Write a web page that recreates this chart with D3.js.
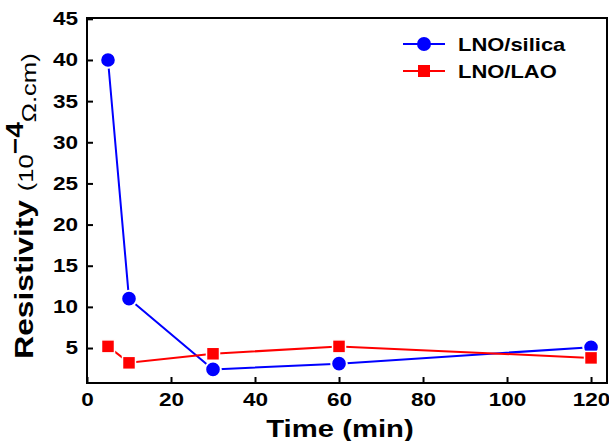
<!DOCTYPE html>
<html>
<head>
<meta charset="utf-8">
<script src="https://cdn.jsdelivr.net/npm/d3@7"></script>
<style>
  body { margin: 0; background: #fff; }
  svg { display: block; font-family: "Liberation Sans", Arial, sans-serif; }
</style>
</head>
<body>
<div id="chart"></div>
<script>
// annealing time (min) and resistivity (10^-4 ohm.cm)
var times = [5, 10, 30, 60, 120];
var silica = [40, 11, 2.4, 3.1, 5.1];
var lao = [5.2, 3.2, 4.3, 5.2, 3.8];
var xTicks = [0, 20, 40, 60, 80, 100, 120];
var yTicks = [5, 10, 15, 20, 25, 30, 35, 40, 45];

var width = 609, height = 441;
var margin = { left: 87, right: 607, top: 18, bottom: 383 };
var stretch = 1.22; // the lettering is drawn a bit wide

var svg = d3.select('#chart').append('svg')
  .attr('width', width)
  .attr('height', height);

var x = d3.scaleLinear().domain([0, 123.8]).range([margin.left, margin.right]);
var y = d3.scaleLinear().domain([0.75, 45.1]).range([margin.bottom, margin.top]);

// axes with ticks pointing into the plot
var xAxis = svg.append('g')
  .attr('transform', `translate(0, ${margin.bottom})`)
  .call(d3.axisBottom(x).tickValues(xTicks).tickSizeInner(-6).tickSizeOuter(0).tickPadding(10));

var yAxis = svg.append('g')
  .attr('transform', `translate(${margin.left}, 0)`)
  .call(d3.axisLeft(y).tickValues(yTicks).tickSizeInner(-6).tickSizeOuter(0).tickPadding(9));

[xAxis, yAxis].forEach(function(ax) {
  ax.select('.domain').remove();
  ax.selectAll('.tick line').attr('stroke', '#000').attr('stroke-width', 2);
  ax.selectAll('.tick text')
    .attr('fill', '#000')
    .attr('font-size', 18.5)
    .attr('font-weight', 'bold')
    .attr('font-family', '"Liberation Sans", Arial, sans-serif');
});
xAxis.selectAll('.tick text').attr('transform', `scale(${stretch},1)`);
yAxis.selectAll('.tick text')
  .attr('x', -9 / stretch)
  .attr('transform', `scale(${stretch},1)`);

// frame
svg.append('rect')
  .attr('x', margin.left)
  .attr('y', margin.top)
  .attr('width', margin.right - margin.left)
  .attr('height', margin.bottom - margin.top)
  .attr('fill', 'none')
  .attr('stroke', '#000')
  .attr('stroke-width', 2);

// series
var line = d3.line()
  .x(function(d, i) { return x(times[i]); })
  .y(function(d) { return y(d); });

svg.append('path')
  .datum(silica)
  .attr('d', line)
  .attr('fill', 'none')
  .attr('stroke', '#0000ff')
  .attr('stroke-width', 2);

svg.selectAll('.dot')
  .data(silica)
  .enter()
  .append('circle')
  .attr('class', 'dot')
  .attr('cx', function(d, i) { return x(times[i]); })
  .attr('cy', function(d) { return y(d); })
  .attr('r', 7.8)
  .attr('fill', '#0000ff')
  .attr('stroke', '#fff')
  .attr('stroke-width', 2);

svg.append('path')
  .datum(lao)
  .attr('d', line)
  .attr('fill', 'none')
  .attr('stroke', '#ff0000')
  .attr('stroke-width', 2);

var sq = 13;
svg.selectAll('.sq')
  .data(lao)
  .enter()
  .append('rect')
  .attr('class', 'sq')
  .attr('x', function(d, i) { return x(times[i]) - sq / 2; })
  .attr('y', function(d) { return y(d) - sq / 2; })
  .attr('width', sq)
  .attr('height', sq)
  .attr('fill', '#ff0000')
  .attr('stroke', '#fff')
  .attr('stroke-width', 1.5);

// legend
var legend = svg.append('g');
var items = [
  { name: 'LNO/silica', color: '#0000ff', shape: 'circle', ly: 44 },
  { name: 'LNO/LAO', color: '#ff0000', shape: 'square', ly: 71 }
];
items.forEach(function(it) {
  legend.append('line')
    .attr('x1', 403).attr('x2', 445)
    .attr('y1', it.ly).attr('y2', it.ly)
    .attr('stroke', it.color)
    .attr('stroke-width', 2);
  if (it.shape === 'circle') {
    legend.append('circle')
      .attr('cx', 424).attr('cy', it.ly).attr('r', 7)
      .attr('fill', it.color);
  } else {
    legend.append('rect')
      .attr('x', 424 - 6).attr('y', it.ly - 6)
      .attr('width', 12).attr('height', 12)
      .attr('fill', it.color);
  }
  legend.append('text')
    .attr('transform', `translate(458, ${it.ly + 6.5}) scale(${stretch},1)`)
    .attr('font-size', 18)
    .attr('font-weight', 'bold')
    .text(it.name);
});

// axis titles
svg.append('text')
  .attr('transform', `translate(${(margin.left + margin.right) / 2 - 7}, 437) scale(${stretch},1)`)
  .attr('text-anchor', 'middle')
  .attr('font-size', 24)
  .attr('font-weight', 'bold')
  .text('Time (min)');

var yTitle = svg.append('text')
  .attr('transform', `translate(33, 206) rotate(-90) scale(${stretch},1)`)
  .attr('text-anchor', 'middle');
yTitle.append('tspan').attr('font-size', 26).attr('font-weight', 'bold').text('Resistivity ');
yTitle.append('tspan').attr('font-size', 21).text('(10');
yTitle.append('tspan').attr('font-size', 23).attr('font-weight', 'bold').attr('dy', -10).text('\u22124');
yTitle.append('tspan').attr('font-size', 21).attr('dy', 13).text('\u03A9.cm)');
</script>
</body>
</html>
